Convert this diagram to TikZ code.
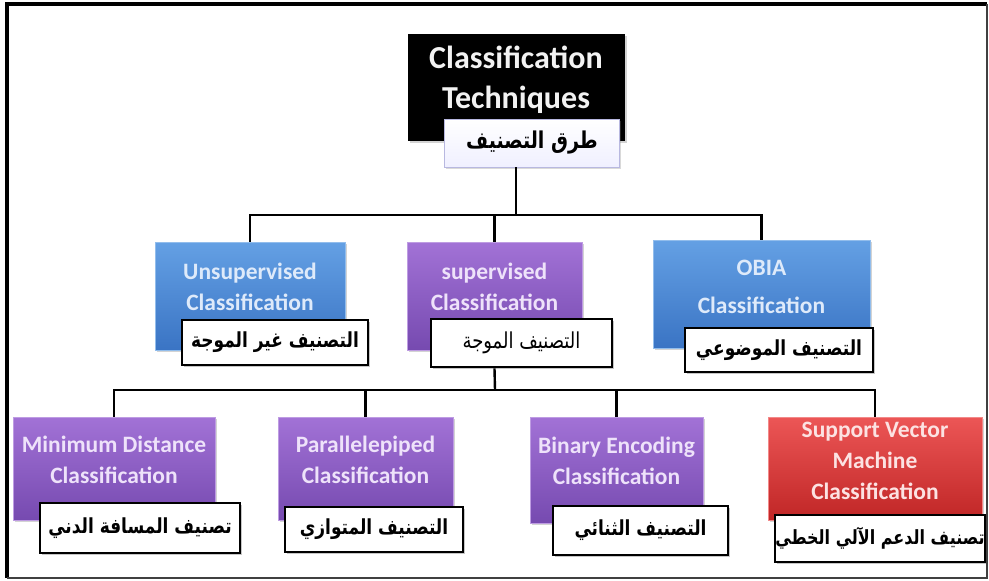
\documentclass[tikz,border=0pt]{standalone}
\usepackage{graphicx}
\usepackage{fontspec}
\setmainfont{Carlito}
\newfontfamily\arabicfont[Script=Arabic]{DejaVu Sans}
\TeXXeTstate=1
\usetikzlibrary{shadows}

\definecolor{bluetop}{RGB}{100,160,228}
\definecolor{bluebot}{RGB}{58,116,196}
\definecolor{purptop}{RGB}{162,114,214}
\definecolor{purpbot}{RGB}{118,74,176}
\definecolor{redtop}{RGB}{236,86,86}
\definecolor{redbot}{RGB}{192,38,38}
\definecolor{bluetxt}{RGB}{222,234,250}
\definecolor{purptxt}{RGB}{238,226,250}
\definecolor{redtxt}{RGB}{252,226,226}

\newcommand{\artext}[1]{\scalebox{1}[1.22]{\beginR #1\endR}}

\tikzset{
  catbox/.style={rectangle, inner sep=0pt, align=center, font=\fontsize{23.5}{31}\selectfont\bfseries,
                 drop shadow={shadow xshift=2pt, shadow yshift=-2pt, opacity=.35}},
  bluebox/.style={catbox, top color=bluetop, bottom color=bluebot, draw=bluetop!70!white, text=bluetxt},
  purpbox/.style={catbox, top color=purptop, bottom color=purpbot, draw=purptop!70!white, text=purptxt},
  redbox/.style={catbox, top color=redtop, bottom color=redbot, draw=redtop!70!white, text=redtxt},
  arlabel/.style={rectangle, draw=black, line width=2.6pt, fill=white, inner sep=0pt,
                  font=\arabicfont\fontsize{17}{20}\selectfont\bfseries,
                  drop shadow={shadow xshift=2pt, shadow yshift=-2pt, opacity=.45}},
  link/.style={draw=black, line width=2.4pt}
}

\begin{document}
\begin{tikzpicture}[x=1pt,y=-1pt]
        \useasboundingbox (0,0) rectangle (989,581);

        \node[rectangle, fill=black, text=white!90!gray, align=center, inner sep=0pt,
              minimum width=217pt, minimum height=107pt, text depth=19pt,
              font=\fontsize{32}{40}\selectfont\bfseries,
              drop shadow={shadow xshift=2pt, shadow yshift=-2pt, opacity=.35}]
              (C00) at (516,87) {Classification\\Techniques};
        \node[rectangle, draw=gray!60!blue!40, line width=.8pt, top color=white, bottom color=blue!6,
              inner sep=0pt, minimum width=175pt, minimum height=48pt,
              font=\arabicfont\fontsize{19}{22}\selectfont\bfseries,
              drop shadow={shadow xshift=1pt, shadow yshift=-2pt, opacity=.3}]
              (A00) at (532,143) {\artext{طرق التصنيف}};

        \node[bluebox, minimum width=190pt, minimum height=108pt, text depth=19pt] (C01) at (250,296)   {Unsupervised\\Classification};
        \node[purpbox, minimum width=175pt, minimum height=108pt, text depth=19pt] (C02) at (494.5,296) {supervised\\Classification};
        \node[bluebox, minimum width=217pt, minimum height=108pt, text depth=15pt,
              font=\fontsize{23.5}{38}\selectfont\bfseries]                           (C03) at (761.5,294) {OBIA\\Classification};

        \node[arlabel, minimum width=186pt, minimum height=45pt] (A01) at (275,342.5) {\artext{التصنيف غير الموجة}};
        \node[arlabel, minimum width=181pt, minimum height=48pt, font=\arabicfont\fontsize{18}{20}\selectfont]
                                                                 (A02) at (521.5,343) {\artext{التصنيف الموجة}};
        \node[arlabel, minimum width=188pt, minimum height=44pt] (A03) at (779,350)   {\artext{التصنيف الموضوعي}};

        \node[purpbox, minimum width=202pt, minimum height=103pt, text depth=17pt] (C11) at (114,468.5)   {Minimum Distance\\Classification};
        \node[purpbox, minimum width=175pt, minimum height=103pt, text depth=17pt] (C12) at (365.5,468.5) {Parallelepiped\\Classification};
        \node[purpbox, minimum width=173pt, minimum height=106pt, text depth=19pt] (C13) at (616.5,470)   {Binary Encoding\\Classification};
        \node[redbox,  minimum width=214pt, minimum height=103pt, text depth=15pt] (C14) at (875,468.5)   {Support Vector\\Machine\\Classification};

        \node[arlabel, minimum width=200pt, minimum height=50pt] (A11) at (140,528)    {\artext{تصنيف المسافة الدني}};
        \node[arlabel, minimum width=178pt, minimum height=45pt] (A12) at (374,529.5)  {\artext{التصنيف المتوازي}};
        \node[arlabel, minimum width=175pt, minimum height=49pt] (A13) at (640.5,530.5) {\artext{التصنيف الثنائي}};
        \node[arlabel, minimum width=210pt, minimum height=47pt, font=\arabicfont\fontsize{16}{20}\selectfont\bfseries]
                                                                 (A14) at (880,538.5)  {\artext{تصنيف الدعم الآلي الخطي}};

        \coordinate (B01) at (516,215);
        \coordinate (B02) at (495,390);

        \draw[link] (C00.south |- A00.south) -- (B01);
        \draw[link] (C01.north) |- (B01) -| (C03.north);
        \draw[link] (C02.north) -- (C02.north |- B01);
        \draw[link] (C02.south |- A02.south) -- (B02);
        \draw[link] (C11.north) |- (B02) -| (C14.north);
        \draw[link] (C12.north) -- (C12.north |- B02);
        \draw[link] (C13.north) -- (C13.north |- B02);

        \draw[line width=3.5pt] (987,4) -- (7,4) -- (7,578);
        \draw[line width=1.4pt, black!75] (7,578) -- (987,578) -- (987,4);
\end{tikzpicture}
\end{document}
